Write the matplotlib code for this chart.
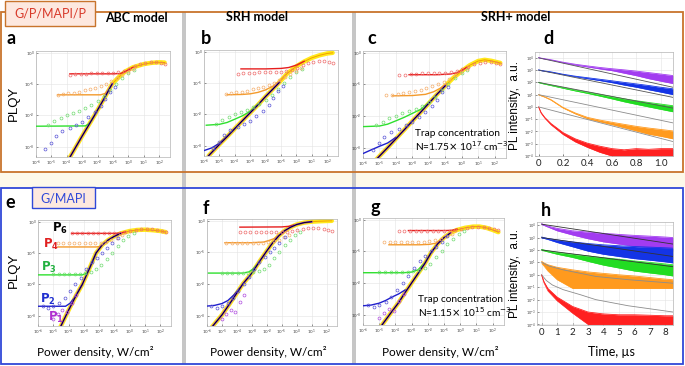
import matplotlib.pyplot as plt
import numpy as np
from matplotlib.patches import Rectangle
from matplotlib.ticker import LogLocator, NullLocator

W, H = 685, 366

RED, ORANGE, GREEN = "#e61e1e", "#f39a2c", "#2ee02e"
BLUE, PURPLE, YELLOW = "#1f1fcc", "#7a2bd8", "#ffe81a"
RED_DOT, ORANGE_DOT, GREEN_DOT = "#ee6f6f", "#f4ae6c", "#72dc72"
BLUE_DOT, PURPLE_DOT = "#5a55d6", "#b04ee0"
BAND = {"purple": "#a23cf0", "blue": "#1434e6", "green": "#22dc22",
        "orange": "#ff9a1e", "red": "#ff2020"}

# ---- measured PLQY points (x = log10 of power density, W/cm2) ----
TOP_RED_X = [-3.8, -3.45, -3.1, -2.75, -2.4, -2.05, -1.7, -1.35, -1.0, -0.65,
             -0.3, 0.05, 0.4, 0.75, 1.1, 1.45, 1.8, 2.1, 2.35]
TOP_RED_Y = [0.19, 0.2, 0.21, 0.21, 0.22, 0.22, 0.22, 0.22, 0.23, 0.24,
             0.26, 0.3, 0.36, 0.42, 0.47, 0.5, 0.5, 0.48, 0.44]
TOP_ORANGE_X = [-4.6, -4.25, -3.9, -3.55, -3.2, -2.85, -2.5, -2.15, -1.8,
                -1.45, -1.1, -0.75, -0.4, -0.05, 0.3]
TOP_ORANGE_Y = [0.045, 0.047, 0.05, 0.053, 0.057, 0.062, 0.068, 0.076, 0.087,
                0.1, 0.12, 0.15, 0.19, 0.24, 0.3]
TOP_GREEN_X = [-5.2, -4.8, -4.4, -4.0, -3.6, -3.2, -2.8, -2.4, -2.0, -1.6,
               -1.2, -0.8, -0.4, 0.0, 0.35]
TOP_GREEN_Y = [5e-3, 6.5e-3, 8.5e-3, 1e-2, 1.2e-2, 1.4e-2, 1.7e-2, 2.1e-2,
               2.8e-2, 4e-2, 6.5e-2, 0.1, 0.16, 0.23, 0.28]
TOP_BLUE_X = [-5.4, -5.0, -4.7, -4.3, -3.8, -3.4, -3.0, -2.6, -2.2, -1.8,
              -1.5, -1.2, -0.85]
TOP_BLUE_Y = [8.5e-4, 1.35e-3, 2.2e-3, 3.2e-3, 4e-3, 5e-3, 6.3e-3, 9e-3,
              1.3e-2, 2e-2, 3.2e-2, 5.6e-2, 8e-2]

BOT_RED_X = TOP_RED_X
BOT_RED_Y = [0.42, 0.42, 0.42, 0.42, 0.42, 0.42, 0.42, 0.43, 0.43, 0.44,
             0.47, 0.5, 0.54, 0.57, 0.58, 0.57, 0.54, 0.5, 0.46]
BOT_ORANGE_X = [-4.7, -4.35, -4.0, -3.65, -3.3, -2.95, -2.6, -2.25, -1.9,
                -1.55, -1.2, -0.85, -0.5]
BOT_ORANGE_Y = [0.2, 0.2, 0.2, 0.2, 0.2, 0.2, 0.2, 0.2, 0.21, 0.22, 0.25,
                0.3, 0.36]
BOT_GREEN_X = [-5.0, -4.65, -4.3, -3.95, -3.6, -3.25, -2.9, -2.55, -2.2,
               -1.85, -1.5, -1.15, -0.8, -0.45, -0.1, 0.25]
BOT_GREEN_Y = [0.022, 0.022, 0.022, 0.022, 0.022, 0.022, 0.023, 0.025, 0.03,
               0.04, 0.065, 0.1, 0.17, 0.25, 0.35, 0.42]
BOT_BLUE_X = [-5.7, -5.35, -5.0, -4.6, -4.25, -3.9, -3.55, -3.2, -2.85, -2.5,
              -2.15, -1.8, -1.5, -1.15, -0.8]
BOT_BLUE_Y = [2e-3, 1.7e-3, 2e-3, 2.5e-3, 3.6e-3, 6e-3, 1e-2, 1.6e-2, 3e-2,
              5e-2, 7e-2, 0.1, 0.14, 0.2, 0.3]
BOT_PURPLE_X = [-5.0, -4.7, -4.4, -4.1, -3.8, -3.5]
BOT_PURPLE_Y = [8e-4, 1.1e-3, 1.5e-3, 1.3e-3, 2.6e-3, 4.5e-3]

# ---- model curves: (log10 power, PLQY) ----
A_ENV = ([-3.85, -3.0, -2.2, -1.5, -1.06, -0.5, -0.2, 0.3, 1.0, 1.5, 2.0, 2.35],
         [4.2e-4, 2.2e-3, 1e-2, 4e-2, 0.1, 0.19, 0.25, 0.34, 0.43, 0.47, 0.49, 0.48])
A_RED = ([-3.8, -1.0, -0.5, -0.2, 0.3], [0.21, 0.21, 0.215, 0.25, 0.34])
A_ORANGE = ([-4.6, -1.8, -1.5, -1.2, -1.0], [0.045, 0.045, 0.05, 0.078, 0.1])
A_GREEN = ([-6.0, -2.8, -2.6, -2.4, -2.2, -1.9],
           [4.5e-3, 4.6e-3, 5.2e-3, 6.8e-3, 1e-2, 1.8e-2])
A_BLUE = None

B_ENV = ([-5.7, -5.0, -4.5, -4.0, -3.5, -3.1, -2.5, -2.0, -1.5, -1.1, -0.6,
          0.0, 0.5, 1.0, 1.5, 2.0, 2.35],
         [4.8e-4, 1.1e-3, 1.95e-3, 3.5e-3, 6.3e-3, 1e-2, 2e-2, 3.7e-2, 6.6e-2,
          0.105, 0.2, 0.34, 0.48, 0.63, 0.76, 0.87, 0.91])
B_RED = ([-3.6, -2.0, -1.0, -0.5, 0.0, 0.5], [0.28, 0.28, 0.29, 0.31, 0.37, 0.49])
B_ORANGE = ([-4.5, -3.5, -3.0, -2.5, -2.0, -1.5, -1.1, -0.7],
            [0.042, 0.043, 0.045, 0.05, 0.06, 0.08, 0.115, 0.18])
B_GREEN = ([-5.85, -5.0, -4.5, -4.0, -3.5, -3.0, -2.5],
           [4.5e-3, 4.8e-3, 5.5e-3, 7e-3, 9e-3, 1.25e-2, 2.1e-2])
B_BLUE = ([-6.0, -5.5, -5.0, -4.5, -4.0], [7e-4, 8.5e-4, 1.2e-3, 2e-3, 3.5e-3])

C_ENV = ([-5.2, -4.5, -4.0, -3.5, -3.0, -2.5, -2.0, -1.5, -1.0, -0.5, 0.0, 0.5,
          1.0, 1.4, 1.8, 2.35],
         [4.2e-4, 1e-3, 1.9e-3, 3.6e-3, 6.9e-3, 1.3e-2, 2.5e-2, 4.8e-2, 8.9e-2,
          0.16, 0.26, 0.4, 0.54, 0.59, 0.55, 0.47])
C_RED = ([-3.2, -1.5, -0.7, -0.3, 0.0, 0.3], [0.2, 0.2, 0.21, 0.23, 0.27, 0.34])
C_ORANGE = ([-4.2, -3.0, -2.2, -1.7, -1.3, -0.9],
            [0.043, 0.044, 0.048, 0.058, 0.075, 0.105])
C_GREEN = ([-6.0, -5.0, -4.5, -4.0, -3.5, -3.0, -2.5, -2.0],
           [4.6e-3, 4.8e-3, 5.5e-3, 7e-3, 9e-3, 1.2e-2, 1.6e-2, 2.6e-2])
C_BLUE = ([-6.0, -5.5, -5.0, -4.5, -4.0], [6.5e-4, 8.5e-4, 1.1e-3, 1.4e-3, 2.1e-3])

E_ENV = ([-4.55, -4.0, -3.5, -3.1, -2.6, -2.2, -1.8, -1.4, -1.0, -0.6, 0.0, 0.5,
          1.0, 1.5, 2.0, 2.35],
         [4.2e-4, 1.5e-3, 4.5e-3, 1e-2, 3.5e-2, 0.1, 0.18, 0.26, 0.34, 0.42,
          0.5, 0.54, 0.55, 0.53, 0.5, 0.46])
E_RED = ([-3.8, -1.0, -0.6, -0.3], [0.42, 0.42, 0.43, 0.47])
E_ORANGE = ([-4.7, -2.2, -1.95, -1.7, -1.4], [0.155, 0.155, 0.16, 0.2, 0.26])
E_GREEN = ([-6.0, -3.1, -2.85, -2.6, -2.2], [0.02, 0.02, 0.022, 0.035, 0.1])
E_BLUE = ([-6.0, -4.2, -3.9, -3.6, -3.1], [2e-3, 2e-3, 2.5e-3, 3.8e-3, 1e-2])

F_ENV = ([-5.7, -5.0, -4.5, -4.0, -3.6, -3.0, -2.5, -2.0, -1.6, -1.2, -0.8,
          -0.4, 0.0, 0.5, 1.0, 1.5, 2.0, 2.35],
         [4.2e-4, 1.05e-3, 2.3e-3, 5.2e-3, 1e-2, 2.2e-2, 5e-2, 0.11, 0.2, 0.33,
          0.48, 0.62, 0.75, 0.86, 0.92, 0.95, 0.97, 0.98])
F_RED = ([-3.8, -1.0, -0.5, -0.2], [0.62, 0.63, 0.66, 0.72])
F_ORANGE = ([-4.8, -3.0, -2.2, -1.8, -1.5, -1.2], [0.2, 0.2, 0.21, 0.24, 0.27, 0.34])
F_GREEN = ([-5.9, -3.6, -3.2, -2.9, -2.6], [0.022, 0.022, 0.024, 0.03, 0.043])
F_BLUE = ([-6.0, -5.5, -5.0, -4.6, -4.2, -3.8],
          [2e-3, 2.1e-3, 2.4e-3, 3e-3, 4.5e-3, 7.5e-3])

G_ENV = ([-4.9, -4.3, -3.8, -3.4, -3.0, -2.6, -2.2, -1.8, -1.4, -1.0, -0.6,
          -0.2, 0.3, 0.8, 1.2, 1.6, 2.0, 2.35],
         [4.2e-4, 1.1e-3, 2.4e-3, 5e-3, 1e-2, 2e-2, 4e-2, 9e-2, 0.17, 0.27,
          0.38, 0.47, 0.55, 0.6, 0.6, 0.55, 0.47, 0.4])
G_RED = ([-3.2, -1.5, -0.9, -0.5, -0.2], [0.45, 0.45, 0.45, 0.46, 0.5])
G_ORANGE = ([-4.4, -2.5, -1.9, -1.5, -1.1], [0.16, 0.16, 0.165, 0.18, 0.25])
G_GREEN = ([-6.0, -3.5, -3.0, -2.6, -2.2, -1.8],
           [0.021, 0.021, 0.022, 0.026, 0.042, 0.09])
G_BLUE = ([-6.0, -5.5, -5.0, -4.6, -4.2, -3.8, -3.4],
          [1.9e-3, 2e-3, 2.3e-3, 2.8e-3, 3.6e-3, 4.5e-3, 6e-3])

# ---- PL decays (band = noisy trace between lo and hi) ----
T_D = [0, 0.02, 0.05, 0.1, 0.2, 0.3, 0.4, 0.5, 0.6, 0.7, 0.8, 0.9, 1.0, 1.1]
D_PURPLE = ([1.05e4, 9.5e3, 8.5e3, 7e3, 4.4e3, 3e3, 2.2e3, 1.65e3, 1.3e3, 1.05e3,
             8.3e2, 6.3e2, 4.8e2, 3.6e2],
            [1e4, 9.1e3, 7.9e3, 6.6e3, 4e3, 2.6e3, 1.8e3, 1.25e3, 9e2, 5.6e2,
             3.5e2, 2e2, 1.25e2, 8e1])
D_BLUE = ([1.05e3, 9.5e2, 8.5e2, 7.2e2, 4.6e2, 3.2e2, 2.4e2, 1.8e2, 1.35e2, 1e2,
           7.5e1, 5.6e1, 4e1, 3e1],
          [1e3, 9e2, 8e2, 6.8e2, 4.3e2, 2.9e2, 2e2, 1.4e2, 9.5e1, 6e1, 4e1,
           2.5e1, 1.6e1, 1e1])
D_GREEN = ([100, 89, 76, 60, 38, 24, 16, 10.5, 6.9, 4.6, 3.2, 2.3, 1.7, 1.25],
           [95, 83, 71, 55, 33, 20, 12.6, 7.6, 4.5, 2.6, 1.6, 1.0, 0.63, 0.4])
D_ORANGE = ([10, 8.5, 6.6, 4.0, 0.9, 0.32, 0.14, 0.085, 0.056, 0.038, 0.026,
             0.019, 0.0145, 0.011],
            [9.5, 8.0, 6.2, 3.6, 0.8, 0.27, 0.11, 0.062, 0.036, 0.02, 0.011,
             6e-3, 4e-3, 2.5e-3])
D_RED = ([1.0, 0.35, 0.14, 0.045, 8e-3, 2.5e-3, 1.1e-3, 6.3e-4, 4e-4, 3.2e-4,
          4e-4, 3.5e-4, 4e-4, 4e-4],
         [0.95, 0.3, 0.12, 0.035, 5.6e-3, 1.4e-3, 5e-4, 2e-4, 1e-4, 1e-4, 1e-4,
          1e-4, 1e-4, 1e-4])
D_FIT_T = [0, 1.1]
D_FITS = [([1e4, 4e1], "#555555"), ([1e3, 6], "#555555"), ([1e2, 0.8], "#555555"),
          ([10, 5e-2], "#8c8c8c"), ([1, 1.5e-3], "#8c8c8c")]

T_H = [0, 0.15, 0.4, 1, 2, 3, 4, 5, 6, 7, 8, 8.5]
H_PURPLE = ([1.3e4, 1.1e4, 8.5e3, 5.5e3, 3.5e3, 2.8e3, 2.2e3, 1.8e3, 1.5e3, 1.3e3,
             1.1e3, 1e3],
            [1.1e4, 9.5e3, 7e3, 3.5e3, 1.6e3, 8e2, 4.5e2, 3e2, 2e2, 1.5e2, 1.1e2, 8e1])
H_BLUE = ([1.1e3, 1e3, 8.5e2, 6.5e2, 4.5e2, 3.3e2, 2.6e2, 2.2e2, 1.9e2, 1.7e2,
           1.5e2, 1.4e2],
          [9e2, 8.5e2, 7e2, 4e2, 1.8e2, 8e1, 4.5e1, 3e1, 2e1, 1.5e1, 1.1e1, 9])
H_GREEN = ([110, 100, 85, 65, 45, 33, 24, 18, 13, 10, 7.5, 6.5],
           [90, 85, 70, 45, 25, 12, 6, 3.5, 2, 1.4, 1, 0.8])
H_ORANGE = ([12, 9, 6.5, 4, 2.5, 1.7, 1.3, 1.0, 0.8, 0.6, 0.45, 0.4],
            [8, 5, 2, 0.4, 0.08, 0.08, 0.08, 0.08, 0.08, 0.08, 0.08, 0.08])
H_RED = ([1.0, 0.28, 0.08, 0.016, 2.8e-3, 1e-3, 7e-4, 6e-4, 6e-4, 5.5e-4, 5e-4, 5e-4],
         [0.9, 0.22, 0.05, 8e-3, 8e-4, 1e-4, 1e-4, 1e-4, 1e-4, 1e-4, 1e-4, 1e-4])
H_FITS = [([0, 8.5], [1.2e4, 3e2], "#333333"), ([0, 8.5], [1e3, 3e1], "#333333"),
          ([0, 8.5], [1e2, 4.5], "#333333"),
          ([0, 0.5, 1.4, 3.5, 5.65, 8.5], [10, 5, 2.5, 0.74, 0.4, 0.21], "#8c8c8c"),
          ([0, 0.3, 0.7, 1.4, 2.5, 3.5, 5.6, 8.5],
           [1, 0.35, 0.15, 0.063, 0.025, 0.01, 3.2e-3, 1e-3], "#8c8c8c")]

D_XTICKS = [0, 0.2, 0.4, 0.6, 0.8, 1.0]
D_XLABELS = ["0", "0.2", "0.4", "0.6", "0.8", "1.0"]
H_XTICKS = [0, 1, 2, 3, 4, 5, 6, 7, 8]

DOTS_TOP = [((TOP_GREEN_X, TOP_GREEN_Y), GREEN_DOT),
            ((TOP_ORANGE_X, TOP_ORANGE_Y), ORANGE_DOT),
            ((TOP_BLUE_X, TOP_BLUE_Y), BLUE_DOT),
            ((TOP_RED_X, TOP_RED_Y), RED_DOT)]
DOTS_BOT = [((BOT_GREEN_X, BOT_GREEN_Y), GREEN_DOT),
            ((BOT_ORANGE_X, BOT_ORANGE_Y), ORANGE_DOT),
            ((BOT_BLUE_X, BOT_BLUE_Y), BLUE_DOT),
            ((BOT_PURPLE_X, BOT_PURPLE_Y), PURPLE_DOT),
            ((BOT_RED_X, BOT_RED_Y), RED_DOT)]

plt.rcParams["font.family"] = ["Lato", "DejaVu Sans"]

fig = plt.figure(figsize=(W / 100, H / 100), dpi=100)


def px(l, t, r, b):
    return [l / W, 1 - b / H, (r - l) / W, (b - t) / H]


def rect(l, t, r, b, **kw):
    fig.add_artist(Rectangle((l / W, 1 - b / H), (r - l) / W, (b - t) / H,
                             transform=fig.transFigure, **kw))


def text(x, y, s, **kw):
    kw.setdefault("ha", "center")
    kw.setdefault("va", "center")
    fig.text(x / W, 1 - y / H, s, **kw)


def frame_style(ax):
    ax.grid(True, color="#e4e4e4", lw=0.4)
    ax.set_axisbelow(True)
    ax.tick_params(labelsize=3.2, length=1.5, width=0.4, direction="in",
                   pad=1.0, colors="#444444")
    for s in ax.spines.values():
        s.set_color("#b4b4b4")
        s.set_linewidth(0.5)


def plqy(rect_px, env, dark_end, red, orange, green, blue, dots):
    ax = fig.add_axes(px(*rect_px))
    ex = 10.0 ** np.array(env[0])
    ey = np.array(env[1])
    ax.plot(ex, ey, color=YELLOW, lw=3.2, solid_capstyle="round", zorder=2)
    ax.plot(ex, ey, color="#f2a000", lw=0.7, zorder=3)
    for curve, c in ((green, GREEN), (orange, ORANGE), (red, RED), (blue, BLUE)):
        if curve is not None:
            ax.plot(10.0 ** np.array(curve[0]), curve[1], color=c, lw=1.0, zorder=4)
    dark = np.array(env[0]) <= dark_end
    ax.plot(ex[dark], ey[dark], color=PURPLE, lw=1.4, zorder=5)
    ax.plot(ex[dark], ey[dark], color="black", lw=0.6, zorder=6)
    for (xs, ys), c in dots:
        ax.plot(10.0 ** np.array(xs), ys, "o", ms=2.1, mfc="none", mec=c,
                mew=0.5, zorder=7)
    ax.set_xscale("log")
    ax.set_yscale("log")
    ax.set_xlim(1e-6, 5e2)
    ax.set_ylim(4.7e-4, 1.12)
    ax.xaxis.set_major_locator(LogLocator(base=10, numticks=20))
    ax.yaxis.set_major_locator(LogLocator(base=10, numticks=20))
    ax.xaxis.set_minor_locator(NullLocator())
    ax.yaxis.set_minor_locator(NullLocator())
    frame_style(ax)
    return ax


def decay(rect_px, t, series, fits, xlim, ylim, xticks, xlabels):
    ax = fig.add_axes(px(*rect_px))
    for name, (hi, lo) in series:
        ax.fill_between(t, lo, hi, color=BAND[name], lw=0, zorder=2)
        ax.plot(t, hi, color=BAND[name], lw=0.6, zorder=2)
        ax.plot(t, lo, color=BAND[name], lw=0.4, zorder=2)
    for ft, fy, c in fits:
        ax.plot(ft, fy, color=c, lw=0.6, zorder=3)
    ax.set_yscale("log")
    ax.set_xlim(*xlim)
    ax.set_ylim(*ylim)
    ax.yaxis.set_major_locator(LogLocator(base=10, numticks=20))
    ax.yaxis.set_minor_locator(NullLocator())
    frame_style(ax)
    ax.set_xticks(xticks, xlabels)
    ax.tick_params(axis="x", labelsize=7, pad=2, colors="#222222")
    ax.tick_params(axis="y", labelsize=2.8, pad=0.8)
    return ax


# background, frames and separators
rect(0, 172, 685, 188, facecolor="#fdf9ea", edgecolor="none", zorder=-2)
rect(182, 12, 186, 364, facecolor="#c6c6c6", edgecolor="none", zorder=-1)
rect(352, 12, 356, 364, facecolor="#c6c6c6", edgecolor="none", zorder=-1)
rect(1, 12, 683, 172, facecolor="none", edgecolor="#c8742c", lw=1.3, zorder=1)
rect(1, 188, 683, 364, facecolor="none", edgecolor="#3048d8", lw=1.3, zorder=1)
rect(5, 1, 95, 26, facecolor="#fde8df", edgecolor="#c8742c", lw=1.0, zorder=2)
rect(32, 187, 95, 208, facecolor="#fde8df", edgecolor="#3048d8", lw=1.0, zorder=2)

plqy((36, 51, 170, 157), A_ENV, -0.9, A_RED, A_ORANGE, A_GREEN, A_BLUE, DOTS_TOP)
plqy((204, 50, 338, 156), B_ENV, -1.0, B_RED, B_ORANGE, B_GREEN, B_BLUE, DOTS_TOP)
plqy((363, 51, 506, 158), C_ENV, -0.7, C_RED, C_ORANGE, C_GREEN, C_BLUE, DOTS_TOP)
plqy((38, 220, 171, 326), E_ENV, -0.6, E_RED, E_ORANGE, E_GREEN, E_BLUE, DOTS_BOT)
plqy((207, 219, 337, 326), F_ENV, 1.0, F_RED, F_ORANGE, F_GREEN, F_BLUE, DOTS_BOT)
plqy((363, 218, 504, 325), G_ENV, -0.45, G_RED, G_ORANGE, G_GREEN, G_BLUE, DOTS_BOT)

order = ["purple", "blue", "green", "orange", "red"]
d_fits = [(D_FIT_T, fy, c) for fy, c in D_FITS]
decay((535, 52, 673, 156), T_D,
      list(zip(order, [D_PURPLE, D_BLUE, D_GREEN, D_ORANGE, D_RED])),
      d_fits, (-0.03, 1.1), (1e-4, 3e4), D_XTICKS, D_XLABELS)
decay((537, 222, 673, 325), T_H,
      list(zip(order, [H_PURPLE, H_BLUE, H_GREEN, H_ORANGE, H_RED])),
      H_FITS, (-0.3, 8.5), (9e-5, 1.8e4), H_XTICKS, [str(v) for v in H_XTICKS])

# texts
text(50, 14, "G/P/MAPI/P", color="#d83a2a", fontsize=9)
text(63, 198, "G/MAPI", color="#3048d8", fontsize=9)
text(136, 18, "ABC model", fontsize=9, fontweight="bold")
text(257, 17, "SRH model", fontsize=9, fontweight="bold")
text(516, 17, "SRH+ model", fontsize=9, fontweight="bold")
for s, x, y in (("a", 11, 38), ("b", 206, 38), ("c", 372, 38), ("d", 548, 38),
                ("e", 10, 203), ("f", 206, 208), ("g", 375, 208), ("h", 546, 210)):
    text(x, y, s, fontsize=13, fontweight="bold")

for y in (103, 270):
    text(14, y, "PLQY", fontsize=9.5, rotation=90, family="Liberation Sans")
for y in (105, 273):
    text(515, y, "PL intensity,  a.u.", fontsize=8.5, rotation=90,
         family="Liberation Sans")
for x in (95, 268, 440):
    text(x, 352, "Power density, W/cm\u00b2", fontsize=8.5)
text(611, 352, "Time, \u00b5s", fontsize=9)

text(415, 134, "Trap concentration", fontsize=7.3, ha="left")
text(415, 146, r"N=1.75$\times$ 10$^{17}$ cm$^{-3}$", fontsize=7.3, ha="left")
text(418, 299, "Trap concentration", fontsize=7.3, ha="left")
text(418, 312, r"N=1.15$\times$ 10$^{15}$ cm$^{-3}$", fontsize=7.3, ha="left")

for s, c, x, y in ((r"$\mathbf{P_6}$", "black", 60, 228),
                   (r"$\mathbf{P_4}$", "#e02020", 51, 244),
                   (r"$\mathbf{P_3}$", "#22b040", 49, 267),
                   (r"$\mathbf{P_2}$", "#2030d0", 48, 299),
                   (r"$\mathbf{P_1}$", "#b030d0", 56, 317)):
    text(x, y, s, color=c, fontsize=8.5)

fig.savefig("out.png", dpi=100)
